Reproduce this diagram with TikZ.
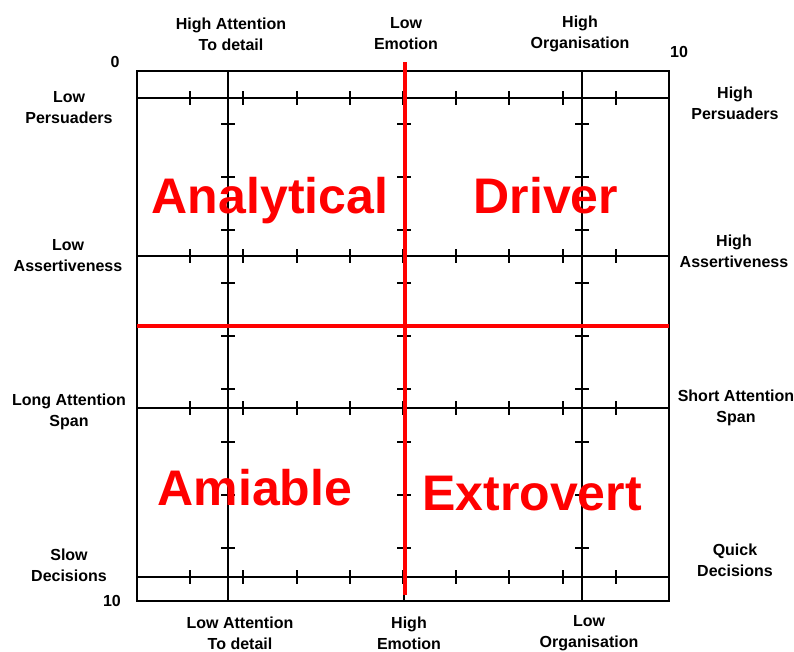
\documentclass[tikz,border=0pt]{standalone}
\usepackage{fontspec}
\setmainfont{Liberation Sans}
\usetikzlibrary{positioning}

\begin{document}
\begin{tikzpicture}[x=0.75pt, y=-0.75pt,
  lbl/.style={font=\fontsize{12}{15.75}\selectfont\bfseries, align=center, inner sep=0pt},
  quad/.style={font=\fontsize{37.5}{40}\selectfont\bfseries, text=red, inner sep=0pt, anchor=base},
  axis/.style={black, line width=1.5pt},
  tick/.style={black, line width=1.5pt},
  split/.style={red, line width=3pt}]
  \fill[white] (0,0) rectangle (794,651);
  \useasboundingbox (0,0) rectangle (794,651);

  % --- frame ---
  \draw[axis] (137,71) rectangle (669,601);

  % --- horizontal scales ---
  \foreach \y in {98,256,408,577} {
    \draw[axis] (137,\y) -- (669,\y);
    \foreach \i in {1,...,10}
      \draw[tick] ({137+53.2*\i},\y-7) -- ++(0,14);
  }

  % --- vertical scales (first tick skipped on the left one) ---
  \foreach \x/\s in {228/1,404/0,582/0} {
    \draw[axis] (\x,71) -- (\x,601);
    \foreach \j in {\s,...,9}
      \draw[tick] (\x-7,{71+53*\j}) -- ++(14,0);
  }

  % --- quadrant split ---
  \draw[split] (137,326) -- (669,326);
  \draw[split] (405,62) -- (405,595);

  % --- quadrant names ---
  \node[quad] (analytical) at (270,213) {Analytical};
  \node[quad] (driver) at (546,213) {Driver};
  \node[quad] (amiable) at (255,505) {Amiable};
  \node[quad] (extrovert) at (532,510) {Extrovert};

  % --- top labels ---
  \node[lbl] (hiattn) at (231,34) {High Attention\\To detail};
  \node[lbl] (loemo) at (406,34) {Low\\Emotion};
  \node[lbl] (hiorg) at (580,34) {High\\Organisation};
  \node[lbl] (zero) at (115,62) {0};
  \node[lbl] (tentop) at (679,52) {10};
  \node[lbl] (tenbot) at (112,601) {10};

  % --- left labels ---
  \node[lbl] (lopers) at (69,108) {Low\\Persuaders};
  \node[lbl] (loassert) at (68,256) {Low\\Assertiveness};
  \node[lbl] (longattn) at (69,412) {Long Attention\\Span};
  \node[lbl] (slowdec) at (69,565) {Slow\\Decisions};

  % --- right labels ---
  \node[lbl] (hipers) at (735,103) {High\\Persuaders};
  \node[lbl] (hiassert) at (734,251) {High\\Assertiveness};
  \node[lbl] (shortattn) at (736,408) {Short Attention\\Span};
  \node[lbl] (quickdec) at (735,560) {Quick\\Decisions};

  % --- bottom labels ---
  \node[lbl] (loattn) at (240,633) {Low Attention\\To detail};
  \node[lbl] (hiemo) at (409,633) {High\\Emotion};
  \node[lbl] (loorg) at (589,633) {Low\\Organisation};
\end{tikzpicture}
\end{document}
